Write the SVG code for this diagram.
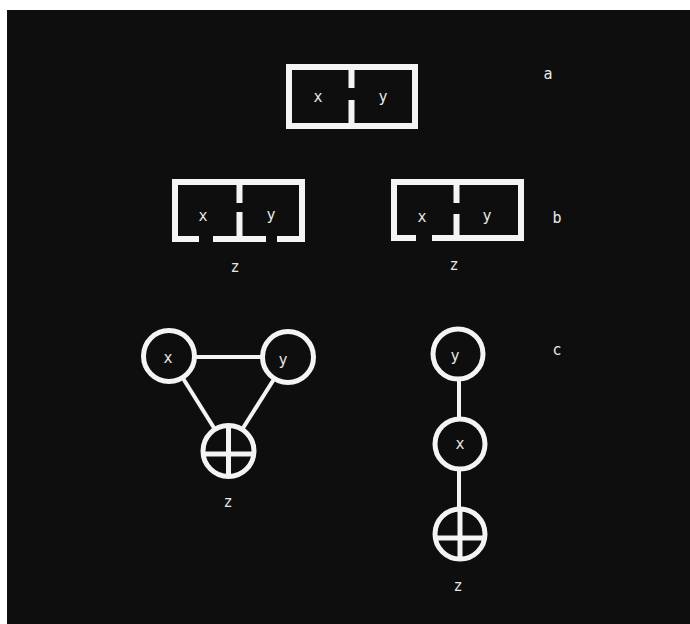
<svg xmlns="http://www.w3.org/2000/svg" width="690" height="624" viewBox="0 0 690 624">
<style>
.box{fill:none;stroke:#f4f4f4;stroke-width:6;stroke-linecap:square}
.node{fill:#0e0e0e;stroke:#f4f4f4;stroke-width:5}
.cross{stroke:#f4f4f4;stroke-width:5}
.edge{stroke:#f4f4f4;stroke-width:4}
.lbl{font-family:"DejaVu Sans Mono",monospace;font-size:15px;fill:#e8e8e8;text-anchor:middle;dominant-baseline:central}
</style>
<rect width="690" height="624" fill="#ffffff"/>
<rect x="7" y="10" width="683" height="614" fill="#0e0e0e"/>

<g id="boxA">
<rect class="box" x="289" y="67" width="126" height="59"/>
<line class="box" x1="351.5" y1="67" x2="351.5" y2="85" stroke-linecap="butt"/>
<line class="box" x1="351.5" y1="103" x2="351.5" y2="126" stroke-linecap="butt"/>
<text class="lbl" x="318" y="97">x</text>
<text class="lbl" x="383" y="97">y</text>
</g>
<text class="lbl" x="548" y="74">a</text>

<g id="boxB1">
<path class="box" d="M196,239 H175 V182 H302 V239 H280"/>
<path class="box" d="M216,239 H263"/>
<line class="box" x1="239.5" y1="182" x2="239.5" y2="200" stroke-linecap="butt"/>
<line class="box" x1="239.5" y1="215" x2="239.5" y2="239" stroke-linecap="butt"/>
<text class="lbl" x="203" y="216">x</text>
<text class="lbl" x="271" y="215">y</text>
<text class="lbl" x="235" y="267">z</text>
</g>

<g id="boxB2">
<path class="box" d="M413,238 H394 V182 H521 V238 H435"/>
<line class="box" x1="456.5" y1="182" x2="456.5" y2="200" stroke-linecap="butt"/>
<line class="box" x1="456.5" y1="217" x2="456.5" y2="238" stroke-linecap="butt"/>
<text class="lbl" x="422" y="217">x</text>
<text class="lbl" x="487" y="216">y</text>
<text class="lbl" x="454" y="265">z</text>
</g>
<text class="lbl" x="557" y="218">b</text>

<g id="connectors">
<line class="edge" x1="169" y1="357" x2="288" y2="357"/>
<line class="edge" x1="169" y1="356" x2="228.5" y2="451"/>
<line class="edge" x1="288" y1="357" x2="228.5" y2="451"/>
<line class="edge" x1="459" y1="354" x2="459" y2="444"/>
<line class="edge" x1="459" y1="444" x2="459" y2="534"/>
</g>

<g id="triX">
<circle class="node" cx="169" cy="356" r="25.5"/>
<text class="lbl" x="168" y="358">x</text>
</g>
<g id="triY">
<circle class="node" cx="288" cy="357" r="25.5"/>
<text class="lbl" x="283" y="360">y</text>
</g>
<g id="triZ">
<circle class="node" cx="228.5" cy="451" r="25.5"/>
<line class="cross" x1="228.5" y1="425.5" x2="228.5" y2="476.5"/>
<line class="cross" x1="203.5" y1="454" x2="253.5" y2="454"/>
<text class="lbl" x="228" y="502">z</text>
</g>

<g id="chainY">
<circle class="node" cx="458" cy="354" r="25"/>
<text class="lbl" x="455" y="356">y</text>
</g>
<g id="chainX">
<circle class="node" cx="460" cy="444" r="25"/>
<text class="lbl" x="460" y="444">x</text>
</g>
<g id="chainZ">
<circle class="node" cx="460" cy="534" r="25"/>
<line class="cross" x1="460" y1="509" x2="460" y2="559"/>
<line class="cross" x1="435" y1="538" x2="485" y2="538"/>
<text class="lbl" x="458" y="586">z</text>
</g>
<text class="lbl" x="557" y="350">c</text>
</svg>
